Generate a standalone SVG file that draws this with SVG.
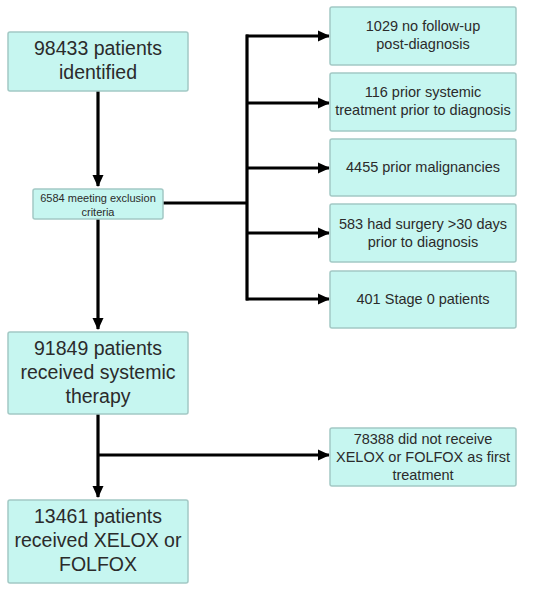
<svg xmlns="http://www.w3.org/2000/svg" width="550" height="592" viewBox="0 0 550 592">
<defs>
<marker id="ah" markerUnits="userSpaceOnUse" markerWidth="12" markerHeight="12" viewBox="0 0 12 12" refX="11" refY="6" orient="auto">
<path d="M0,0.5 L12,6 L0,11.5 Z" fill="#000"/>
</marker>
<style>
.box{fill:#c6f6f0;stroke:#a3c9c5;stroke-width:1.5}
.t{font-family:"Liberation Sans",Arial,sans-serif;fill:#2b2b2b;text-anchor:middle}
.big{font-size:19.5px}
.mid{font-size:14.5px}
.sm{font-size:11px}
.ln{fill:none;stroke:#000;stroke-width:3.2}
</style>
</defs>
<rect width="550" height="592" fill="#fff"/>
<g id="connectors">
<path class="ln" d="M98,91 V186" marker-end="url(#ah)"/>
<path class="ln" d="M98,219 V329" marker-end="url(#ah)"/>
<path class="ln" d="M98,414 V497" marker-end="url(#ah)"/>
<path class="ln" d="M98,455 H329" marker-end="url(#ah)"/>
<path class="ln" d="M163,203 H247"/>
<path class="ln" d="M247,34.4 V300.6"/>
<path class="ln" d="M246,36 H329" marker-end="url(#ah)"/>
<path class="ln" d="M247,103 H329" marker-end="url(#ah)"/>
<path class="ln" d="M247,168 H329" marker-end="url(#ah)"/>
<path class="ln" d="M247,233 H329" marker-end="url(#ah)"/>
<path class="ln" d="M246,299 H329" marker-end="url(#ah)"/>
</g>
<g id="n1">
<rect class="box" x="8" y="32" width="180" height="59" rx="2"/>
<text class="t big" x="98" y="55">98433 patients</text>
<text class="t big" x="98" y="79">identified</text>
</g>
<g id="n2">
<rect class="box" x="33" y="189" width="130" height="30" rx="2"/>
<text class="t sm" x="98" y="202">6584 meeting exclusion</text>
<text class="t sm" x="98" y="216">criteria</text>
</g>
<g id="n3">
<rect class="box" x="8" y="332" width="180" height="82" rx="2"/>
<text class="t big" x="98" y="355">91849 patients</text>
<text class="t big" x="98" y="379">received systemic</text>
<text class="t big" x="98" y="403">therapy</text>
</g>
<g id="n4">
<rect class="box" x="8" y="500" width="180" height="83" rx="2"/>
<text class="t big" x="98" y="523">13461 patients</text>
<text class="t big" x="98" y="547">received XELOX or</text>
<text class="t big" x="98" y="571">FOLFOX</text>
</g>
<g id="r1">
<rect class="box" x="330" y="7" width="186" height="58" rx="2"/>
<text class="t mid" x="423" y="31">1029 no follow-up</text>
<text class="t mid" x="423" y="49">post-diagnosis</text>
</g>
<g id="r2">
<rect class="box" x="330" y="73" width="186" height="58" rx="2"/>
<text class="t mid" x="423" y="97">116 prior systemic</text>
<text class="t mid" x="423" y="115">treatment prior to diagnosis</text>
</g>
<g id="r3">
<rect class="box" x="330" y="139" width="186" height="57" rx="2"/>
<text class="t mid" x="423" y="172">4455 prior malignancies</text>
</g>
<g id="r4">
<rect class="box" x="330" y="204" width="186" height="58" rx="2"/>
<text class="t mid" x="423" y="229">583 had surgery &gt;30 days</text>
<text class="t mid" x="423" y="247">prior to diagnosis</text>
</g>
<g id="r5">
<rect class="box" x="330" y="271" width="186" height="57" rx="2"/>
<text class="t mid" x="423" y="304">401 Stage 0 patients</text>
</g>
<g id="r6">
<rect class="box" x="330" y="428" width="186" height="58" rx="2"/>
<text class="t mid" x="423" y="444">78388 did not receive</text>
<text class="t mid" x="423" y="462">XELOX or FOLFOX as first</text>
<text class="t mid" x="423" y="480">treatment</text>
</g>
</svg>
